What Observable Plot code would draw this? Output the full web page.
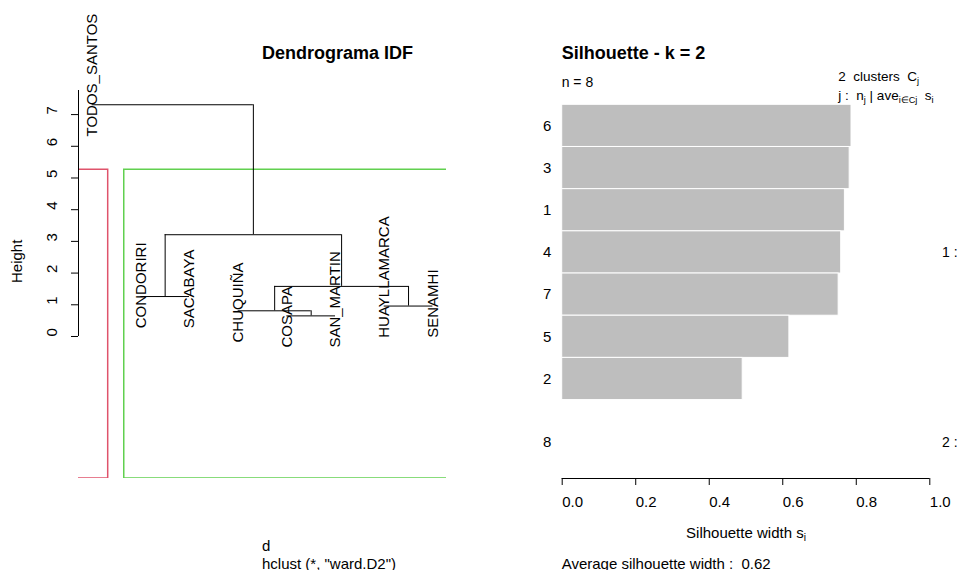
<!DOCTYPE html>
<html><head><meta charset="utf-8">
<script src="https://cdn.jsdelivr.net/npm/d3@7"></script>
<script src="https://cdn.jsdelivr.net/npm/@observablehq/plot@0.6"></script>
<style>
html,body{margin:0;padding:0;background:#fff;overflow:hidden}
#wrap{position:relative;width:961px;height:570px;overflow:hidden;font-family:"Liberation Sans",Arial,sans-serif;color:#000}
.lbl{position:absolute;white-space:pre;line-height:1;transform:translateY(-50%)}
.pl{position:absolute;top:0}
sub{font-size:0.68em;vertical-align:-0.35em;line-height:0}
</style></head><body><div id="wrap"></div>
<script>
// ---------- Dendrogram data ----------
const leafLabels = ["TODOS_SANTOS","CONDORIRI","SACABAYA","CHUQUIÑA","COSAPA","SAN_MARTIN","HUAYLLAMARCA","SENAMHI"];
const mergeIds     = ["F","E","G","C","D","B","R"];
const mergeLeft    = ["COSAPA","CHUQUIÑA","HUAYLLAMARCA","CONDORIRI","E","C","TODOS_SANTOS"];
const mergeRight   = ["SAN_MARTIN","F","SENAMHI","SACABAYA","G","D","B"];
const mergeHeights = [0.65, 0.81, 0.96, 1.26, 1.58, 3.21, 7.31];
const heightTicks  = [0,1,2,3,4,5,6,7];
const clusterFirstLeaf = [1, 2];
const clusterLastLeaf  = [1, 8];
const clusterColors    = ["#DF536B", "#61D04F"];

// ---------- Silhouette data ----------
const silIds     = [6,3,1,4,7,5,2,8];
const silCluster = [1,1,1,1,1,1,1,2];
const silWidth   = [0.787,0.782,0.769,0.759,0.752,0.618,0.491,0];
const silTicks   = [0,0.2,0.4,0.6,0.8,1.0];
const clusterNames = ["1 :", "2 :"];

const FONT = '"Liberation Sans", Arial, sans-serif';
const wrap = document.getElementById("wrap");

// ---- build dendrogram geometry from merges ----
const xPos = new Map(leafLabels.map((l,i)=>[l,i+1]));
const hPos = new Map();
mergeIds.forEach((id,i)=>{
  xPos.set(id,(xPos.get(mergeLeft[i])+xPos.get(mergeRight[i]))/2);
  hPos.set(id, mergeHeights[i]);
});
const horiz = mergeIds.map((id,i)=>({x1:xPos.get(mergeLeft[i]), x2:xPos.get(mergeRight[i]), y:mergeHeights[i]}));
const vert = [];
const leafText = [];
const labelDrop = 1.0;
mergeIds.forEach((id,i)=>{
  for (const c of [mergeLeft[i], mergeRight[i]]) {
    if (hPos.has(c)) vert.push({x:xPos.get(c), y1:hPos.get(c), y2:mergeHeights[i]});
    else leafText.push({x:xPos.get(c), y:mergeHeights[i]-labelDrop, text:c});
  }
});
const n = leafLabels.length;
const xDom = [1-0.04*(n-1), n+0.04*(n-1)];
const yDom = [-4.48, 7.76];
const sorted = [...mergeHeights].sort((a,b)=>b-a);
const cutHeight = (sorted[0]+sorted[1])/2;
const rects = clusterFirstLeaf.map((f,i)=>({x1:f-1+0.66, x2:clusterLastLeaf[i]+0.33, y1:yDom[0], y2:cutHeight, c:clusterColors[i]}));

const left = Plot.plot({
  width: 480, height: 570,
  marginLeft: 78, marginRight: 34, marginTop: 90, marginBottom: 92,
  x: {domain: xDom, axis: null},
  y: {domain: yDom, axis: null},
  style: {fontFamily: FONT, fontSize: "15px", background: "transparent", overflow: "visible"},
  marks: [
    Plot.rect(rects, {x1:"x1", x2:"x2", y1:"y1", y2:"y2", fill:"none", stroke:d=>d.c, strokeWidth:1.5, clip:true}),
    Plot.ruleX([xDom[0]], {y1: 0, y2: yDom[1], stroke:"#000"}),
    Plot.axisY(heightTicks, {anchor:"left", tickSize:7, tickFormat:()=>"", label:null, stroke:"#000"}),
    Plot.text(heightTicks, {y:d=>d, text:d=>String(d), frameAnchor:"left", dx:-26.3, rotate:-90, textAnchor:"start", fontSize:15, fill:"#000"}),
    Plot.ruleY(horiz, {x1:"x1", x2:"x2", y:"y", stroke:"#000"}),
    Plot.ruleX(vert, {x:"x", y1:"y1", y2:"y2", stroke:"#000"}),
    Plot.text(leafText, {x:"x", y:"y", text:"text", rotate:-90, textAnchor:"start", fontSize:15, fill:"#000"})
  ]
});
left.classList.add("pl"); left.style.left = "0px";
wrap.appendChild(left);

// ---- silhouette ----
let gaps = 0;
const sil = silIds.map((id,i)=>{
  if (i>0 && silCluster[i]!==silCluster[i-1]) gaps += 0.5;
  return {id, cl:silCluster[i], s:silWidth[i], p:i+gaps};
});
const syDom = [-0.839, 8.359];
const right = Plot.plot({
  width: 481, height: 570,
  marginLeft: 81.7, marginRight: 31.7, marginTop: 90, marginBottom: 92,
  x: {domain: [0,1], axis: null},
  y: {domain: syDom, axis: null, reverse: true},
  style: {fontFamily: FONT, fontSize: "15px", background: "transparent", overflow: "visible"},
  marks: [
    Plot.rect(sil.filter(d=>d.s>0), {x1:0, x2:"s", y1:d=>d.p-0.5, y2:d=>d.p+0.5, fill:"#BEBEBE", stroke:"#fff", strokeWidth:1}),
    Plot.text(sil, {x:0, y:"p", text:d=>String(d.id), dx:-15, textAnchor:"middle", fontSize:15, fill:"#000"}),
    Plot.ruleY([syDom[1]], {x1:0, x2:1, stroke:"#000"}),
    Plot.axisX(silTicks, {anchor:"bottom", tickSize:7, tickFormat:()=>"", label:null, stroke:"#000"}),
    Plot.text(silTicks, {x:d=>d, text:d=>d3.format(".1f")(d), frameAnchor:"bottom", dy:28.5, textAnchor:"start", fontSize:15, fill:"#000"})
  ]
});
right.classList.add("pl"); right.style.left = "480px";
wrap.appendChild(right);

// ---- annotations ----
function lbl(html, x, y, size, extra) {
  const d = document.createElement("div");
  d.className = "lbl";
  d.innerHTML = html;
  d.style.left = x + "px"; d.style.top = y + "px"; d.style.fontSize = size + "px";
  if (extra) Object.assign(d.style, extra);
  wrap.appendChild(d);
  return d;
}
const avgAll = d3.mean(silWidth).toFixed(2);
lbl("Dendrograma IDF", 262, 53.3, 18, {fontWeight:"bold"});
lbl("d", 262, 545, 15);
lbl('hclust (*, "ward.D2")', 262, 562.5, 15);
lbl("Height", 16, 283, 15, {transform:"translate(-50%,-50%) rotate(-90deg) translateX(50%)", transformOrigin:"50% 50%"});

lbl("Silhouette - k = 2", 561.7, 53.3, 18, {fontWeight:"bold"});
lbl("n = " + silIds.length, 561.7, 81.7, 14);
lbl("2  clusters  C<sub>j</sub>", 838.3, 77, 13.5);
lbl("j :  n<sub>j</sub> | ave<sub>i∈Cj</sub>  s<sub>i</sub>", 838.3, 96, 13.5);
lbl("Silhouette width s<sub>i</sub>", 746, 531.7, 15, {transform:"translate(-50%,-50%)"});
lbl("Average silhouette width :  " + avgAll, 561.7, 563, 15);
// cluster labels at right margin
const yS = d3.scaleLinear().domain(syDom).range([90, 478]);
[1,2].forEach((c,i)=>{
  const pts = sil.filter(d=>d.cl===c);
  lbl(clusterNames[i], 942, yS(d3.mean(pts,d=>d.p)), 14);
});
</script></body></html>
